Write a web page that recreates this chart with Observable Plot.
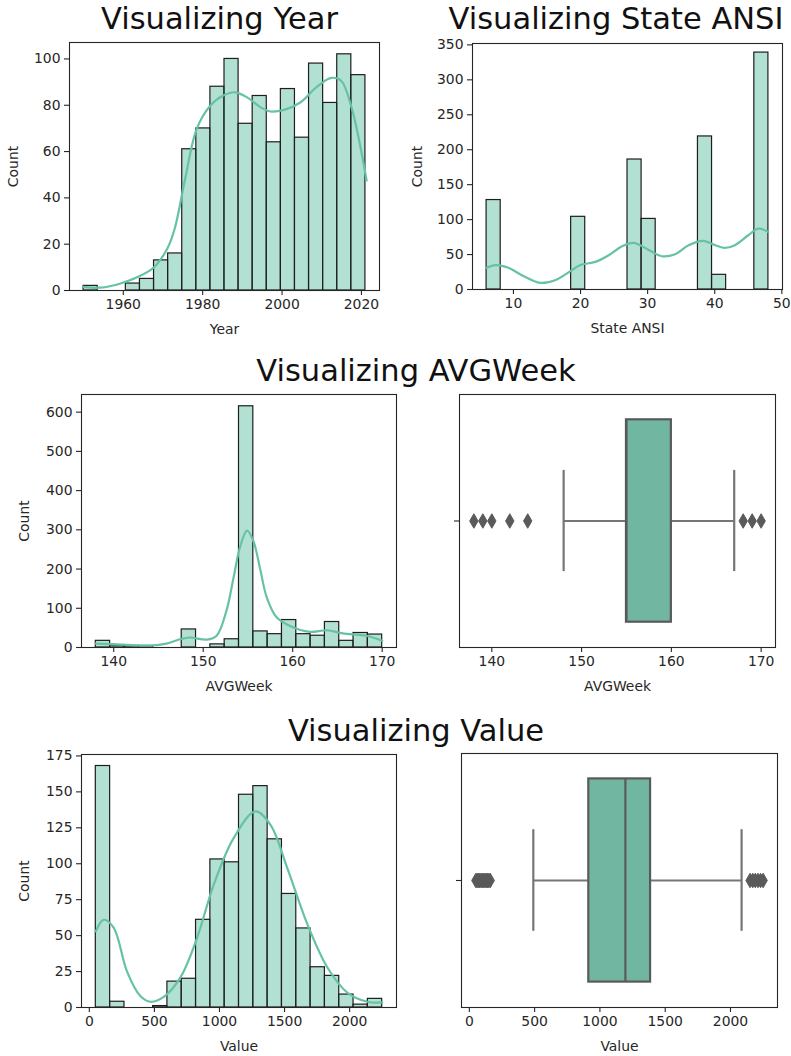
<!DOCTYPE html>
<html>
<head>
<meta charset="utf-8">
<script src="https://cdn.jsdelivr.net/npm/d3@7"></script>
<script src="https://cdn.jsdelivr.net/npm/@observablehq/plot@0.6"></script>
<style>
  body { margin: 0; background: #fff; }
  #root { position: relative; width: 791px; height: 1056px; font-family: "DejaVu Sans", sans-serif; overflow: hidden; }
  .title { position: absolute; font-size: 30.5px; line-height: 1; color: #111; white-space: nowrap; transform: translateX(-50%); }
  .panel { position: absolute; }
</style>
</head>
<body>
<div id="root"></div>
<script>
// ---------- DATA ----------
// Year histogram (20 bins from 1950, width 3.55)
const yearBinStart = 1950, yearBinWidth = 3.55;
const yearCounts = [2, 0, 0, 3, 5, 13, 16, 61, 70, 88, 100, 72, 84, 64, 87, 66, 98, 81, 102, 93];
const yearKdeX = [1950, 1954, 1958, 1960.7, 1963.2, 1967.6, 1971.2, 1973, 1975.5, 1978.5, 1981.9, 1985.2, 1988.2, 1991.2, 1994.6, 1997.1, 2000.5, 2004.7, 2008.6, 2012.4, 2014.9, 2017.5, 2019.6, 2021.3];
const yearKdeY = [1.6, 1.2, 2.4, 3.9, 5.5, 9.8, 18.5, 27, 47.5, 69.8, 79.8, 84.2, 85.6, 83.4, 79.1, 77.3, 78, 81.3, 87.7, 91.8, 90.6, 79.1, 63.3, 47.5];
const yearTicksX = [1960, 1980, 2000, 2020];
const yearTicksY = [0, 20, 40, 60, 80, 100];

// State ANSI histogram (20 bins from 6, width 2.1)
const ansiBinStart = 6, ansiBinWidth = 2.1;
const ansiCounts = [128, 0, 0, 0, 0, 0, 104, 0, 0, 0, 186, 101, 0, 0, 0, 219, 21, 0, 0, 339];
const ansiKdeX = [6, 7.3, 9.25, 11.25, 14, 16.2, 18.7, 19.9, 22.2, 24.2, 26.2, 27.9, 30.1, 32.1, 34.1, 36.1, 38.3, 40.1, 41.5, 43, 45, 46.5, 48];
const ansiKdeY = [31, 34.8, 31, 20.5, 9.5, 13.3, 27.6, 34.8, 39.5, 49, 62, 66.7, 57, 47.6, 50.5, 63.3, 69.5, 63.3, 59.5, 63.3, 77.6, 87.1, 82.4];
const ansiTicksX = [10, 20, 30, 40, 50];
const ansiTicksY = [0, 50, 100, 150, 200, 250, 300, 350];

// AVGWeek histogram (20 bins from 138, width 1.6)
const avgBinStart = 138, avgBinWidth = 1.6;
const avgCounts = [17, 5, 4, 4, 0, 0, 46, 0, 8, 21, 615, 41, 34, 70, 34, 30, 65, 17, 37, 33];
const avgKdeX = [138, 140, 142, 144.1, 145.9, 147.4, 148.5, 150.4, 151.5, 152.6, 153.4, 154.1, 154.9, 155.6, 156.4, 157.1, 158.2, 159.7, 161.9, 163.8, 165.6, 168.2, 170];
const avgKdeY = [10, 8.5, 6, 5, 10, 21, 25.5, 20, 30, 94, 179, 255, 298, 272, 196, 128, 77, 55, 40, 44, 36, 30, 17];
const avgTicksX = [140, 150, 160, 170];
const avgTicksY = [0, 100, 200, 300, 400, 500, 600];

// AVGWeek boxplot: whiskerLow, q1, median, q3, whiskerHigh
const avgBox = [148, 155, 155, 160, 167];
const avgOutliers = [138, 139, 140, 142, 144, 168, 169, 170];

// Value histogram (20 bins from 50, width 110)
const valBinStart = 50, valBinWidth = 110;
const valCounts = [168, 4, 0, 0, 1, 18, 20, 61, 103, 101, 148, 154, 117, 79, 55, 28, 22, 9, 2, 6];
const valKdeX = [50, 110, 187, 290, 392, 469, 572, 700, 828, 956, 1110, 1277, 1392, 1521, 1675, 1828, 1982, 2136, 2250];
const valKdeY = [53, 61, 55.5, 25, 8, 4, 7.4, 21, 48.5, 85.5, 118, 136.4, 127, 97, 58, 28, 10.4, 4, 3.5];
const valTicksX = [0, 500, 1000, 1500, 2000];
const valTicksY = [0, 25, 50, 75, 100, 125, 150, 175];

// Value boxplot
const valBox = [490, 915, 1195, 1388, 2085];
const valOutliers = [50, 60, 70, 80, 90, 100, 110, 120, 130, 140, 150, 160, 2150, 2170, 2190, 2210, 2230, 2250];

// ---------- STYLE ----------
const barFill = "#66c2a5";
const kdeColor = "#66c2a5";
const boxFill = "#71b6a1";
const boxGray = "#5a5a5a";
const whiskerGray = "#767676";
const ink = "#262626";
const FONT = "DejaVu Sans, sans-serif";

const root = document.getElementById("root");

function bins(start, width, counts) {
  return counts.map((c, i) => ({x1: start + i * width, x2: start + (i + 1) * width, count: c})).filter(d => d.count > 0);
}
function kde(xs, ys) { return xs.map((x, i) => ({x, y: ys[i]})); }

function addTitle(text, cx, baseline) {
  const d = document.createElement("div");
  d.className = "title";
  d.textContent = text;
  d.style.left = cx + "px";
  d.style.top = (baseline - 0.846 * 30.5) + "px";
  root.appendChild(d);
}

function addPanel(cfg) {
  const mL = 70, mR = 8, mT = 8, mB = 56;
  const [fx0, fx1, fy0, fy1] = cfg.frame;
  const w = fx1 - fx0, h = fy1 - fy0;
  const chart = Plot.plot({
    width: w + mL + mR,
    height: h + mT + mB,
    marginLeft: mL, marginRight: mR, marginTop: mT, marginBottom: mB,
    style: {fontFamily: FONT, fontSize: "13.9px", color: ink, background: "transparent", overflow: "visible"},
    x: {domain: cfg.xDomain, axis: null},
    y: {domain: cfg.yDomain, axis: null},
    marks: [
      ...cfg.marks,
      Plot.frame({stroke: ink, strokeWidth: 1.1}),
      Plot.axisX({ticks: cfg.xTicks, tickFormat: d => String(d), tickSize: 5, tickPadding: 4, fontSize: 13.9, stroke: ink, strokeWidth: 1.1,
        label: cfg.xLabel, labelAnchor: "center", labelArrow: "none", labelOffset: cfg.xLabelOffset ?? 43}),
      Plot.axisY({ticks: cfg.yTicks, tickSize: 5, tickPadding: 4, fontSize: 13.9, stroke: ink, strokeWidth: 1.1,
        tickFormat: cfg.yTickFormat ?? (d => String(d)),
        label: cfg.yLabel, labelAnchor: "center", labelArrow: "none", labelOffset: cfg.yLabelOffset ?? 61})
    ]
  });
  chart.classList.add("panel");
  chart.style.left = (fx0 - mL) + "px";
  chart.style.top = (fy0 - mT) + "px";
  root.appendChild(chart);
}

function histMarks(b, k) {
  return [
    Plot.rectY(b, {x1: "x1", x2: "x2", y: "count", fill: barFill, fillOpacity: 0.5, stroke: "#1e1e1e", strokeWidth: 1.2}),
    Plot.line(k, {x: "x", y: "y", stroke: kdeColor, strokeWidth: 2.2, curve: "catmull-rom"})
  ];
}

function boxMarks(stats, outliers) {
  const [lo, q1, med, q3, hi] = stats;
  const s = [{lo, q1, med, q3, hi}];
  return [
    Plot.ruleY(s, {y: () => 0, x1: "lo", x2: "q1", stroke: whiskerGray, strokeWidth: 2.2}),
    Plot.ruleY(s, {y: () => 0, x1: "q3", x2: "hi", stroke: whiskerGray, strokeWidth: 2.2}),
    Plot.ruleX(s, {x: "lo", y1: () => -0.2, y2: () => 0.2, stroke: whiskerGray, strokeWidth: 2.2}),
    Plot.ruleX(s, {x: "hi", y1: () => -0.2, y2: () => 0.2, stroke: whiskerGray, strokeWidth: 2.2}),
    Plot.rect(s, {x1: "q1", x2: "q3", y1: () => -0.4, y2: () => 0.4, fill: boxFill, stroke: boxGray, strokeWidth: 2.2}),
    Plot.ruleX(s, {x: "med", y1: () => -0.4, y2: () => 0.4, stroke: boxGray, strokeWidth: 2.2}),
    Plot.dot(outliers, {x: d => d, y: () => 0, symbol: "diamond", r: 4.4, fill: boxGray, stroke: boxGray, strokeWidth: 1})
  ];
}

// ---------- TITLES ----------
addTitle("Visualizing Year", 219.5, 29.5);
addTitle("Visualizing State ANSI", 616, 29.5);
addTitle("Visualizing AVGWeek", 416, 382);
addTitle("Visualizing Value", 416, 742);

// ---------- PANELS ----------
addPanel({
  frame: [69, 379, 42, 290], xDomain: [1946.45, 2024.55], yDomain: [0, 107.1],
  xTicks: yearTicksX, yTicks: yearTicksY, xLabel: "Year", yLabel: "Count", yLabelOffset: 61,
  marks: histMarks(bins(yearBinStart, yearBinWidth, yearCounts), kde(yearKdeX, yearKdeY))
});
addPanel({
  frame: [472, 782, 43, 289], xDomain: [3.9, 50.1], yDomain: [0, 352],
  xTicks: ansiTicksX, yTicks: ansiTicksY, xLabel: "State ANSI", yLabel: "Count", yLabelOffset: 60,
  marks: histMarks(bins(ansiBinStart, ansiBinWidth, ansiCounts), kde(ansiKdeX, ansiKdeY))
});
addPanel({
  frame: [81, 396, 394, 647], xDomain: [136.4, 171.6], yDomain: [0, 645],
  xTicks: avgTicksX, yTicks: avgTicksY, xLabel: "AVGWeek", yLabel: "Count", yLabelOffset: 62,
  marks: histMarks(bins(avgBinStart, avgBinWidth, avgCounts), kde(avgKdeX, avgKdeY))
});
addPanel({
  frame: [459, 775, 394, 647], xDomain: [136.4, 171.6], yDomain: [0.5, -0.5],
  xTicks: avgTicksX, yTicks: [0], yTickFormat: () => "", xLabel: "AVGWeek", yLabel: null,
  marks: boxMarks(avgBox, avgOutliers)
});
addPanel({
  frame: [81, 396, 754, 1007], xDomain: [-60, 2360], yDomain: [0, 176],
  xTicks: valTicksX, yTicks: valTicksY, xLabel: "Value", yLabel: "Count", yLabelOffset: 62,
  marks: histMarks(bins(valBinStart, valBinWidth, valCounts), kde(valKdeX, valKdeY))
});
addPanel({
  frame: [461, 777, 753, 1007], xDomain: [-60, 2360], yDomain: [0.5, -0.5],
  xTicks: valTicksX, yTicks: [0], yTickFormat: () => "", xLabel: "Value", yLabel: null,
  marks: boxMarks(valBox, valOutliers)
});
</script>
</body>
</html>
